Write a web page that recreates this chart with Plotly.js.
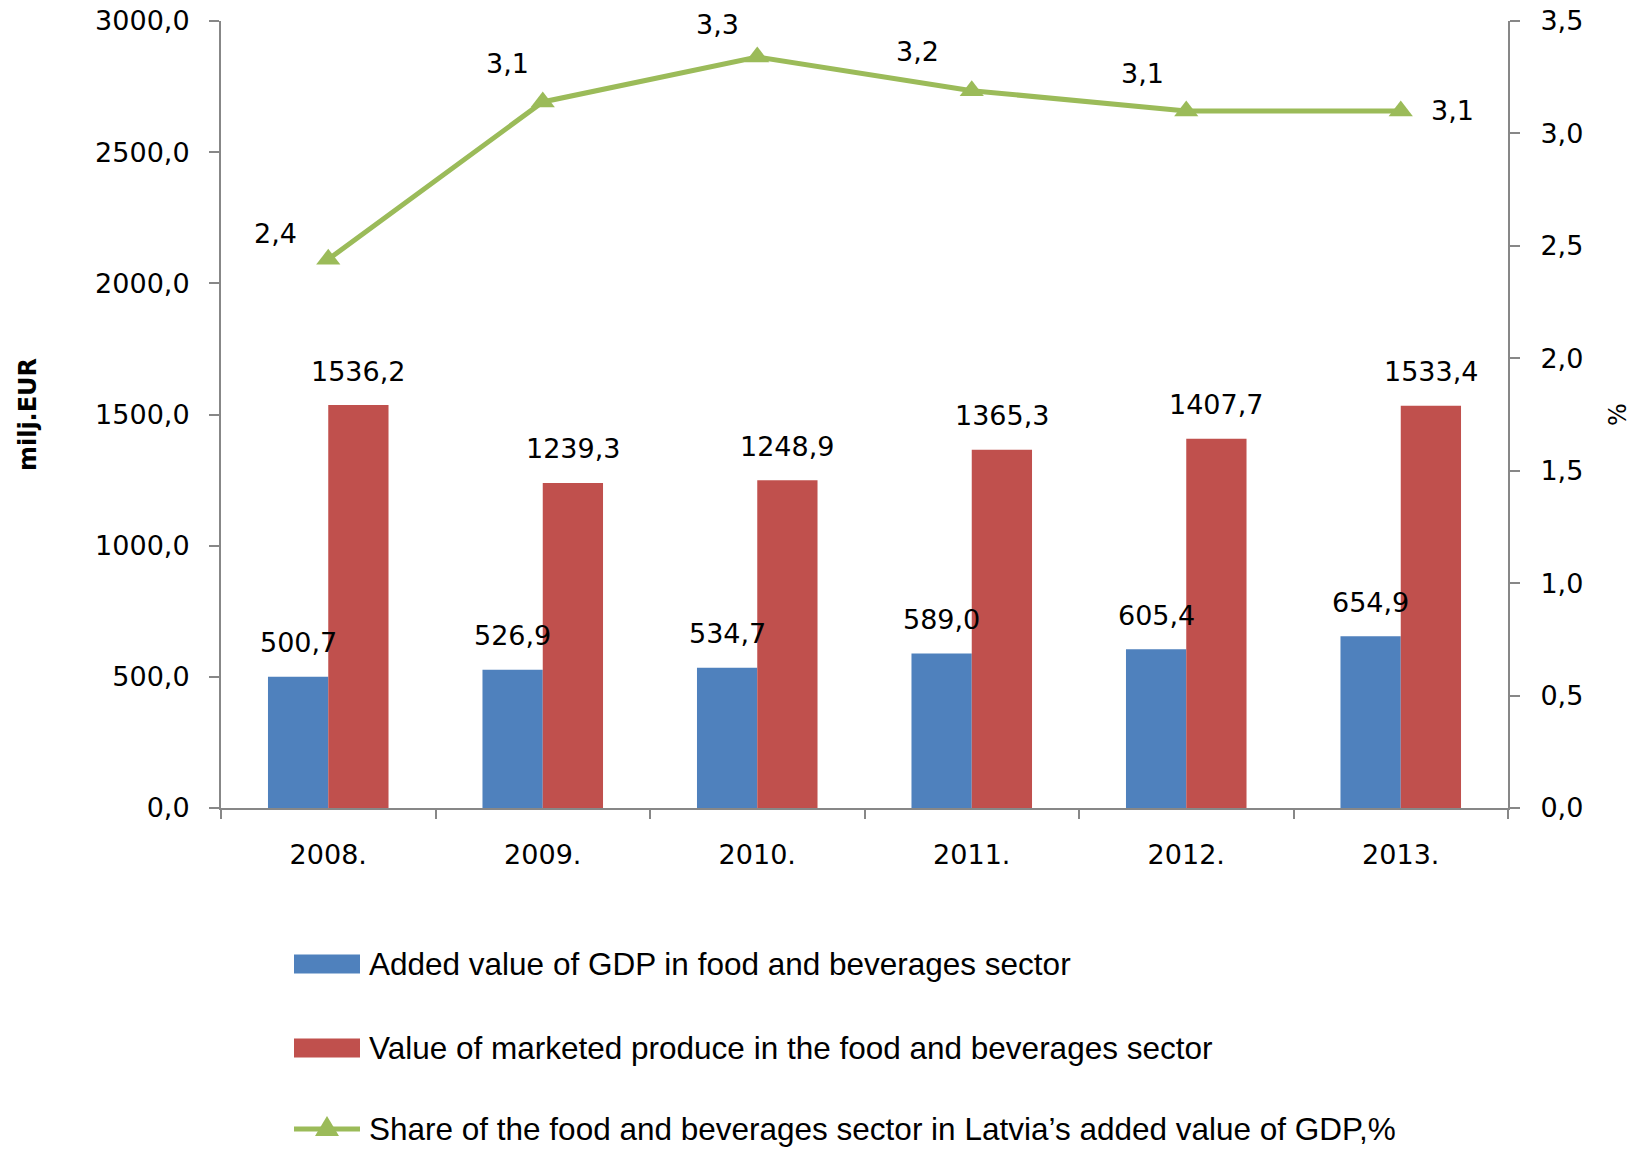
<!DOCTYPE html>
<html>
<head>
<meta charset="utf-8">
<script src="https://cdn.plot.ly/plotly-3.0.1.min.js"></script>
<style>
html,body{margin:0;padding:0;background:#fff;}
#chart{width:1646px;height:1150px;}
</style>
</head>
<body>
<div id="chart"></div>
<script>
// ---- data ----
const years = ["2008.", "2009.", "2010.", "2011.", "2012.", "2013."];
const addedValue = [500.7, 526.9, 534.7, 589.0, 605.4, 654.9];
const marketedValue = [1536.2, 1239.3, 1248.9, 1365.3, 1407.7, 1533.4];
const sharePct = [2.44, 3.14, 3.34, 3.19, 3.10, 3.10];
const seriesNames = [
  "Added value of GDP in food and beverages sector",
  "Value of marketed produce in the food and beverages sector",
  "Share of the food and beverages sector in Latvia\u2019s added value of GDP,%"
];
const leftTitle = "milj.EUR";
const rightTitle = "%";

// ---- style / layout constants ----
const W = 1646, H = 1150;
const M = {l: 221, r: W - 1508, t: 21, b: H - 808};
const BLUE = "#4F81BD", RED = "#C0504D", GREEN = "#9BBB59", AXIS = "#878787";
const NUMFONT = {family: "DejaVu Sans, Verdana, sans-serif", size: 27, color: "#000"};
const LEGFONT = {family: "Liberation Sans, Arial, sans-serif", size: 31.5, color: "#000"};
const BARGAP = 0.438;
const half = (1 - BARGAP) / 4;               // offset of each bar centre from category centre
const lineLabelShift = [[-53, 26], [-35, 38], [-40, 32], [-54, 39], [-44, 37], [52, 0]];

function fmt(v, d) { return v.toFixed(d).replace(".", ","); }
const plotW = W - M.l - M.r, plotH = H - M.t - M.b;
function px(x) { return (x - M.l) / plotW; }
function py(y) { return (H - M.b - y) / plotH; }

const traces = [
  {type: "bar", name: seriesNames[0], x: years, y: addedValue, marker: {color: BLUE},
   showlegend: false, hoverinfo: "skip"},
  {type: "bar", name: seriesNames[1], x: years, y: marketedValue, marker: {color: RED},
   showlegend: false, hoverinfo: "skip"},
  {type: "scatter", mode: "lines+markers", name: seriesNames[2], x: years, y: sharePct, yaxis: "y2",
   line: {color: GREEN, width: 5}, marker: {symbol: "triangle-up", size: 21, color: GREEN},
   showlegend: false, hoverinfo: "skip"}
];

const annotations = [];
years.forEach((yr, i) => {
  annotations.push({x: i - half, y: addedValue[i], xref: "x", yref: "y", text: fmt(addedValue[i], 1),
    showarrow: false, yshift: 34, font: NUMFONT, xanchor: "center", yanchor: "middle"});
  annotations.push({x: i + half, y: marketedValue[i], xref: "x", yref: "y", text: fmt(marketedValue[i], 1),
    showarrow: false, yshift: 34, font: NUMFONT, xanchor: "center", yanchor: "middle"});
  annotations.push({x: i, y: sharePct[i], xref: "x", yref: "y2", text: fmt(sharePct[i], 1),
    showarrow: false, xshift: lineLabelShift[i][0], yshift: lineLabelShift[i][1],
    font: NUMFONT, xanchor: "center", yanchor: "middle"});
});

// custom legend
const legY = [964, 1048, 1129];
const swX0 = 294, swX1 = 360, txtX = 367;
const shapes = [];
[BLUE, RED].forEach((c, k) => {
  shapes.push({type: "rect", xref: "paper", yref: "paper", x0: px(swX0), x1: px(swX1),
    y0: py(legY[k] + 9.5), y1: py(legY[k] - 9.5), fillcolor: c, line: {width: 0}});
});
shapes.push({type: "line", xref: "paper", yref: "paper", x0: px(swX0), x1: px(swX1),
  y0: py(legY[2]), y1: py(legY[2]), line: {color: GREEN, width: 5}});
(function () {
  const cx = (swX0 + swX1) / 2, cy = legY[2];
  const p = `M ${px(cx - 12)} ${py(cy + 7)} L ${px(cx + 12)} ${py(cy + 7)} L ${px(cx)} ${py(cy - 13)} Z`;
  shapes.push({type: "path", xref: "paper", yref: "paper", path: p, fillcolor: GREEN, line: {width: 0}});
})();
seriesNames.forEach((n, k) => {
  annotations.push({xref: "paper", yref: "paper", x: px(txtX), y: py(legY[k]), text: n,
    showarrow: false, xanchor: "left", yanchor: "middle", font: LEGFONT});
});

const layout = {
  width: W, height: H,
  margin: M,
  paper_bgcolor: "#fff", plot_bgcolor: "#fff",
  separators: ", ",
  barmode: "group", bargap: BARGAP, bargroupgap: 0,
  showlegend: false,
  font: NUMFONT,
  xaxis: {type: "category", tickson: "boundaries", ticks: "outside", ticklen: 9, tickwidth: 2,
    tickcolor: AXIS, showline: true, linecolor: AXIS, linewidth: 2, showgrid: false,
    tickfont: NUMFONT, ticklabelstandoff: 22, range: [-0.5, 5.5]},
  yaxis: {range: [0, 3000], dtick: 500, tickformat: ".1f", ticks: "outside", ticklen: 10, tickwidth: 2,
    tickcolor: AXIS, showline: true, linecolor: AXIS, linewidth: 2, showgrid: false, zeroline: false,
    tickfont: NUMFONT, ticklabelstandoff: 14,
    title: {text: leftTitle, font: {family: "DejaVu Sans, Verdana, sans-serif", size: 24, color: "#000", weight: "bold"}, standoff: 52}},
  yaxis2: {overlaying: "y", side: "right", range: [0, 3.5], dtick: 0.5, tickformat: ".1f",
    ticks: "outside", ticklen: 10, tickwidth: 2, tickcolor: AXIS, showline: true, linecolor: AXIS,
    linewidth: 2, showgrid: false, zeroline: false, tickfont: NUMFONT, ticklabelstandoff: 15,
    title: {text: rightTitle, font: {family: "DejaVu Sans, Verdana, sans-serif", size: 24, color: "#000"}, standoff: 27}},
  annotations: annotations,
  shapes: shapes
};

Plotly.newPlot("chart", traces, layout, {displayModeBar: false, staticPlot: true});
</script>
</body>
</html>
